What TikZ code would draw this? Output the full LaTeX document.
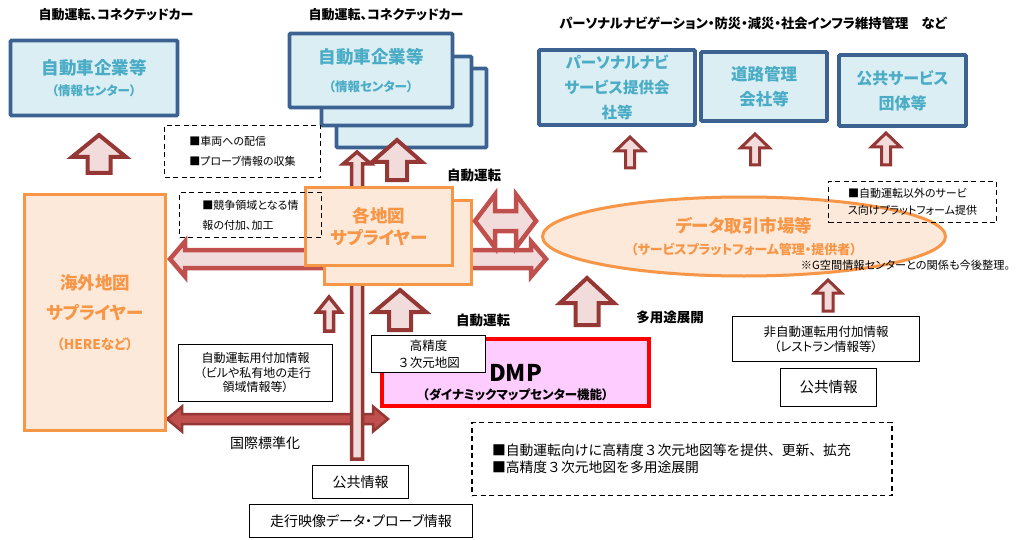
\documentclass[tikz,border=0pt]{standalone}
\usepackage{fontspec}
\setmainfont{Noto Sans CJK JP}[RawFeature=+palt]
\usepackage{tikz}
\usetikzlibrary{
  calc,
  positioning,
  shapes.geometric
}
\definecolor{boxblue}{HTML}{3B6291}
\definecolor{boxfill}{HTML}{DBEEF4}
\definecolor{textblue}{HTML}{4BACC6}
\definecolor{orgline}{HTML}{F79646}
\definecolor{orgfill}{HTML}{FDE9D9}
\definecolor{arrline}{HTML}{953735}
\definecolor{arrfill}{HTML}{F2DCDB}
\definecolor{arrlight}{HTML}{C0504D}
\definecolor{dmpfill}{HTML}{FFCCFF}

\newcommand\fsz[2]{\fontsize{#1}{#2}\selectfont}
\newcommand\nopalt{\addfontfeature{RawFeature=-palt}}
% fat arrow pointing up: style, tip, base, head half width, shaft half width, head length
\newcommand\fatup[6]{%
  \draw[#1] let \p1=#2, \p2=#3 in
    (\x1,\y1) -- (\x1+#4,\y1-#6) -- (\x1+#5,\y1-#6) -- (\x1+#5,\y2)
    -- (\x1-#5,\y2) -- (\x1-#5,\y1-#6) -- (\x1-#4,\y1-#6) -- cycle;}
% fat double arrow left-right: style, left tip, right tip, head half width, shaft half width, head length
\newcommand\fatlr[6]{%
  \draw[#1] let \p1=#2, \p2=#3 in
    (\x1,\y1) -- (\x1+#6,\y1+#4) -- (\x1+#6,\y1+#5) -- (\x2-#6,\y1+#5)
    -- (\x2-#6,\y1+#4) -- (\x2,\y1) -- (\x2-#6,\y1-#4) -- (\x2-#6,\y1-#5)
    -- (\x1+#6,\y1-#5) -- (\x1+#6,\y1-#4) -- cycle;}

\begin{document}
\begin{tikzpicture}[x=1pt,y=-1pt]
  \tikzset{
    bluebox/.style={draw=boxblue, line width=3.8pt, fill=boxfill, text=textblue,
      align=center, inner sep=0pt, rounded corners=1pt},
    orgbox/.style={draw=orgline, line width=3.5pt, fill=orgfill, text=orgline,
      align=center, inner sep=0pt},
    txtbox/.style={draw=black, line width=1.2pt, fill=white, align=center, inner sep=0pt},
    dashbox/.style={draw=black, line width=1.2pt, dash pattern=on 5pt off 3.5pt,
      align=left, inner sep=0pt},
    head/.style={font=\bfseries\fsz{13}{15}},
    uparr/.style={draw=arrline, fill=arrfill, line width=3.5pt},
    lightarr/.style={draw=arrlight, fill=arrfill, line width=4.5pt},
    stdarr/.style={draw=arrline, fill=arrlight, line width=2.5pt},
  }
\path[use as bounding box, fill=white] (0,0) rectangle (1016,540);

% headings
\node[head] (hd1) at (116,15) {自動運転、コネクテッドカー};
\node[head] (hd2) at (386,15) {自動運転、コネクテッドカー};
\node[head, font=\bfseries\fsz{13.3}{15}] (hd3) at (753,23) {パーソナルナビゲーション・防災・減災・社会インフラ維持管理　など};

% car makers
\node[bluebox, minimum width=167, minimum height=75, font=\bfseries\fsz{17.5}{21}] (car1) at (94,78)
  {自動車企業等\\\fsz{12.5}{21}（情報センター）};
\node[bluebox, minimum width=150, minimum height=79] (car2c) at (411.5,108) {};
\node[bluebox, minimum width=150, minimum height=69] (car2b) at (396.5,91) {};
\node[bluebox, minimum width=163, minimum height=74, font=\bfseries\fsz{17.5}{28}] (car2a) at (371,70.5)
  {自動車企業等\\\fsz{12.5}{28}（情報センター）};

% service providers
\node[bluebox, minimum width=156, minimum height=75, font=\bfseries\fsz{15.5}{25}] (navi) at (617,87.5)
  {パーソナルナビ\\サービス提供会\\社等};
\node[bluebox, minimum width=126, minimum height=69, font=\bfseries\fsz{16.5}{25}] (road) at (764,86.5)
  {道路管理\\会社等};
\node[bluebox, minimum width=127, minimum height=71, font=\bfseries\fsz{16}{25}] (pubsv) at (902.5,90.5)
  {公共サービス\\団体等};

% arrow ends
\coordinate (a1t) at (99,135);  \coordinate (a1b) at (99,173);
\coordinate (b1t) at (630,137); \coordinate (b1b) at (630,168);
\coordinate (b2t) at (755,134); \coordinate (b2b) at (755,165);
\coordinate (b3t) at (886,133); \coordinate (b3b) at (886,165);
\coordinate (c1t) at (397,140); \coordinate (c1b) at (397,180);
\coordinate (d1t) at (357,152); \coordinate (d1b) at (357,459);
\coordinate (e1t) at (329,297); \coordinate (e1b) at (329,331);
\coordinate (f1t) at (400,290); \coordinate (f1b) at (400,330);
\coordinate (g1t) at (587,278); \coordinate (g1b) at (587,325);
\coordinate (h1t) at (828,280); \coordinate (h1b) at (828,311);
\coordinate (hl) at (170,259);  \coordinate (hr) at (546,259);
\coordinate (al) at (475,221);  \coordinate (ar) at (536,221);
\coordinate (sl) at (167,419);  \coordinate (sr) at (388,419);

\fatup{uparr, line width=4pt}{(a1t)}{(a1b)}{27pt}{11.5pt}{22pt}
\fatup{uparr, line width=3pt}{(b1t)}{(b1b)}{14.5pt}{4.5pt}{14pt}
\fatup{uparr, line width=3pt}{(b2t)}{(b2b)}{14.5pt}{4.5pt}{14pt}
\fatup{uparr, line width=3pt}{(b3t)}{(b3b)}{14.5pt}{4.5pt}{14pt}
\fatup{uparr, line width=4pt}{(c1t)}{(c1b)}{25pt}{10pt}{22pt}

% map suppliers
\fatlr{lightarr}{(hl)}{(hr)}{17.5pt}{9pt}{15pt}
\fatlr{stdarr}{(sl)}{(sr)}{12.5pt}{5pt}{15pt}
\fatup{uparr}{(d1t)}{(d1b)}{14pt}{5.5pt}{12pt}
\node[orgbox, minimum width=141, minimum height=236, font=\bfseries\fsz{17.5}{30}] (kaigai) at (95,312.5)
  {海外地図\\サプライヤー\\\fsz{13.5}{32}（HEREなど）};
\node[orgbox, minimum width=147, minimum height=84] (kakub) at (398,242.5) {};
\node[orgbox, minimum width=147, minimum height=78, font=\bfseries\fsz{17.5}{22}] (kakua) at (379,226.5)
  {各地図\\サプライヤー};
\fatup{uparr}{(e1t)}{(e1b)}{12pt}{4.5pt}{15pt}
\fatup{uparr, line width=4pt}{(f1t)}{(f1b)}{26pt}{11pt}{22pt}

% notes
\node[dashbox, minimum width=156, minimum height=52, font=\fsz{11}{20}] (dist1) at (242.5,151.5)
  {■車両への配信\\■プローブ情報の収集};
\node[dashbox, minimum width=142, minimum height=45, font=\fsz{11}{20}] (dist2) at (250.5,215)
  {■競争領域となる情\\報の付加、加工};

% data market
\node[ellipse, draw=orgline, line width=3pt, fill=orgfill, text=orgline, font=\bfseries\fsz{17.5}{22},
  align=center, inner sep=0pt, minimum width=403, minimum height=79] (market) at (744,236.5)
  {データ取引市場等\\\fsz{13}{22}（サービスプラットフォーム管理・提供者）};
\fatlr{lightarr}{(al)}{(ar)}{26.5pt}{10pt}{20pt}
\fatup{uparr, line width=4pt}{(g1t)}{(g1b)}{27pt}{11.5pt}{25pt}
\fatup{uparr, line width=3pt}{(h1t)}{(h1b)}{13.5pt}{5pt}{13pt}
\node[dashbox, minimum width=168, minimum height=41, font=\fsz{11}{17}] (dist3) at (912.5,202)
  {■自動運転以外のサービ\\ス向けプラットフォーム提供};
\node[font=\fsz{11.2}{13}] (gnote) at (905.5,265) {※G空間情報センターとの関係も今後整理。};

% labels
\node[font=\bfseries\fsz{13.5}{16}] (lab1) at (474,175) {自動運転};
\node[font=\bfseries\fsz{13.5}{16}] (lab2) at (483,320) {自動運転};
\node[font=\bfseries\fsz{13.5}{16}] (lab3) at (670,317) {多用途展開};
\node[font=\fsz{14}{16}] (lab4) at (265,443) {国際標準化};

% DMP
\node[draw=red, line width=4pt, fill=dmpfill, inner sep=0pt,
  minimum width=267, minimum height=67] (dmp) at (515.5,372.5) {};
\node[font=\bfseries\fsz{23}{24}, align=center, inner sep=0pt] (dmplab) at ($(dmp.center)+(0,10)$)
  {DMP\\[-6pt]\fsz{12.5}{22}（ダイナミックマップセンター機能）};
\node[txtbox, minimum width=114, minimum height=37, font=\fsz{12.5}{17}] (hd3d) at (428.5,354)
  {高精度\\{\nopalt ３}次元地図};

% info sources
\node[txtbox, minimum width=154, minimum height=57, font=\fsz{12}{14.5}] (addinfo) at (255.5,373)
  {自動運転用付加情報\\（ビルや私有地の走行\\領域情報等）};
\node[txtbox, minimum width=187, minimum height=45, font=\fsz{12.5}{15}] (nonad) at (826,339)
  {非自動運転用付加情報\\（レストラン情報等）};
\node[txtbox, minimum width=96, minimum height=38, font=\fsz{14.5}{16}] (pubR) at (828.5,387.5) {公共情報};
\node[txtbox, minimum width=96, minimum height=33, font=\fsz{14}{16}] (pubB) at (360.5,482) {公共情報};
\node[txtbox, minimum width=223, minimum height=33, font=\fsz{14}{16}] (video) at (361,521)
  {走行映像データ・プローブ情報};
\node[dashbox, text width=380, inner xsep=20pt, minimum height=73, font=\fsz{13.8}{17}\nopalt] (dist4) at (682,459)
  {■自動運転向けに高精度３次元地図等を提供、更新、拡充\\■高精度３次元地図を多用途展開};

\end{tikzpicture}
\end{document}
